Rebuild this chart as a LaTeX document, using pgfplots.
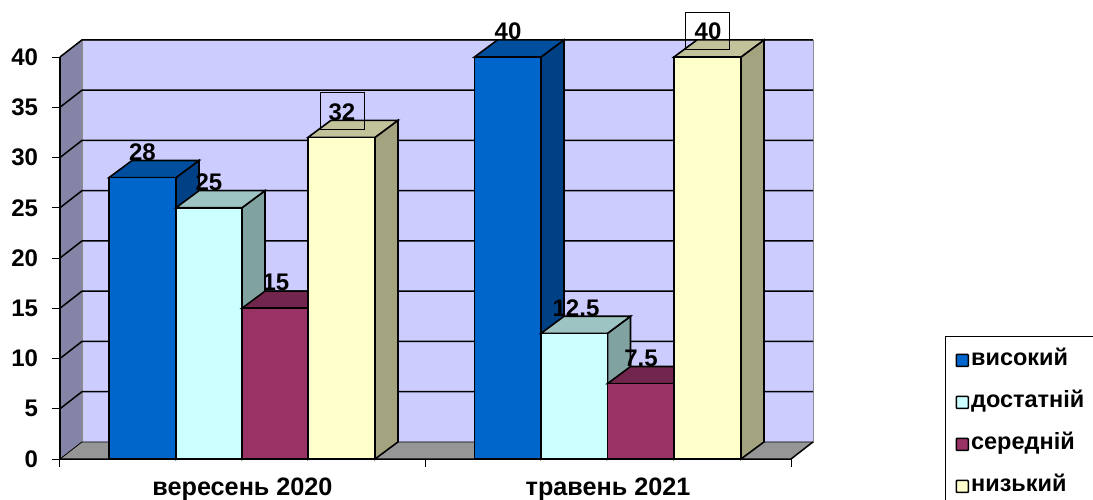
\documentclass[border=0pt]{standalone}
\usepackage{fontspec}
\setmainfont{Liberation Sans}
\usepackage{pgfplots}
\pgfplotsset{compat=1.18}

\definecolor{wallback}{HTML}{CCCCFF}
\definecolor{wallleft}{HTML}{8484A6}
\definecolor{floorgrey}{HTML}{969696}
\definecolor{bluef}{HTML}{0066CC}
\definecolor{bluet}{HTML}{004F9E}
\definecolor{blues}{HTML}{004085}
\definecolor{cyanf}{HTML}{CCFFFF}
\definecolor{cyant}{HTML}{9DC4C2}
\definecolor{cyans}{HTML}{80A3A1}
\definecolor{plumf}{HTML}{993366}
\definecolor{plumt}{HTML}{73264D}
\definecolor{yellf}{HTML}{FFFFCC}
\definecolor{yellt}{HTML}{C2C29B}
\definecolor{yells}{HTML}{A3A380}

% x0, x1, x1+depth, x0+depth, value, value+depth, front, top, side
\newcommand{\tdbar}[9]{
	\addplot[draw=black, line width=1.6pt, fill=#9, forget plot] coordinates {(#2,0) (#3,1.7) (#3,#6) (#2,#5)} --cycle;
	\addplot[draw=black, line width=1.6pt, fill=#8, forget plot] coordinates {(#1,#5) (#4,#6) (#3,#6) (#2,#5)} --cycle;
	\addplot[draw=black, line width=1.6pt, fill=#7, forget plot] coordinates {(#1,0) (#1,#5) (#2,#5) (#2,0)} --cycle;
}
\newcommand{\swatch}[1]{
	\addlegendimage{legend image code/.code={\draw[line width=1.6pt, fill=#1, rounded corners=0.8pt] (0pt,-6pt) rectangle (12pt,6pt);}}
}
\newcommand{\gridl}[2]{
	\addplot[black, line width=1.5pt, forget plot] coordinates {(60,#1) (82,#2) (813,#2)};
}

\begin{document}
\begin{tikzpicture}
\path[use as bounding box] (0,0) rectangle (1093pt,499pt);
\begin{axis}[
	at={(60pt,40pt)},
	anchor=south west,
	scale only axis,
	width=731pt,
	height=402pt,
	xmin=60, xmax=791,
	ymin=0, ymax=40,
	clip=false,
	axis x line=bottom,
	axis y line=left,
	axis line style={-, line width=1.5pt},
	tick align=outside,
	major tick length=8pt,
	tick style={black, line width=1pt},
	ytick={0,5,...,40},
	xtick={60,425,791},
	xticklabels={},
	extra x ticks={242.5,608},
	extra x tick labels={вересень 2020,травень 2021},
	extra x tick style={tick style={draw=none}},
	xticklabel style={font=\bfseries\fontsize{25.2}{28}\selectfont, inner sep=0pt, yshift=-10.9pt},
	yticklabel style={font=\bfseries\fontsize{24}{28}\selectfont, xshift=-10.5pt},
	/pgf/number format/assume math mode=true,
	legend style={
		at={(axis cs:945,12.2)},
		anchor=north west,
		draw=black,
		line width=1pt,
		font=\bfseries\fontsize{23.5}{26}\selectfont,
		inner xsep=10pt,
		inner ysep=11.5pt,
		row sep=18pt,
		nodes={inner sep=2pt, text height=15pt, text depth=5pt},
		legend cell align=left,
	},
]
\swatch{bluef}
\addlegendentry{високий}
\swatch{cyanf}
\addlegendentry{достатній}
\swatch{plumf}
\addlegendentry{середній}
\swatch{yellf}
\addlegendentry{низький}

% walls and floor
\addplot[draw=black!45, line width=0.8pt, fill=wallback, forget plot] coordinates {(82,1.7) (82,41.7) (813,41.7) (813,1.7)} --cycle;
\addplot[draw=black!45, line width=0.6pt, fill=wallleft, forget plot] coordinates {(60,0) (60,40) (82,41.7) (82,1.7)} --cycle;
\addplot[draw=none, fill=floorgrey, forget plot] coordinates {(60,0) (82,1.7) (813,1.7) (791,0)} --cycle;
\addplot[black, line width=1.5pt, forget plot] coordinates {(60,0) (60,40)};
\addplot[black, line width=1.5pt, forget plot] coordinates {(60,0) (791,0) (813,1.7)};
\addplot[black, line width=0.8pt, forget plot] coordinates {(60,0) (82,1.7) (813,1.7)};
\gridl{5}{6.7}
\gridl{10}{11.7}
\gridl{15}{16.7}
\gridl{20}{21.7}
\gridl{25}{26.7}
\gridl{30}{31.7}
\gridl{35}{36.7}
\gridl{40}{41.7}

% вересень 2020
\tdbar{109}{176}{199}{132}{28}{29.7}{bluef}{bluet}{blues}
\tdbar{176}{242}{265}{199}{25}{26.7}{cyanf}{cyant}{cyans}
\tdbar{242}{308}{331}{265}{15}{16.7}{plumf}{plumt}{plumt}
\tdbar{308}{375}{398}{331}{32}{33.7}{yellf}{yellt}{yells}
% травень 2021
\tdbar{474.5}{541}{564}{497.5}{40}{41.7}{bluef}{bluet}{blues}
\tdbar{541}{607.5}{630.5}{564}{12.5}{14.2}{cyanf}{cyant}{cyans}
\tdbar{607.5}{674}{697}{630.5}{7.5}{9.2}{plumf}{plumt}{plumt}
\tdbar{674}{741}{764}{697}{40}{41.7}{yellf}{yellt}{yells}

% frames of two data labels
\addplot[black, line width=0.6pt, forget plot] coordinates {(320,32.84) (320,36.52) (364,36.52) (364,32.84)} --cycle;
\addplot[black, line width=0.6pt, forget plot] coordinates {(685,40.8) (685,44.48) (729,44.48) (729,40.8)} --cycle;

% data labels
\addplot[draw=none, forget plot, point meta=explicit symbolic, nodes near coords,
	every node near coord/.style={anchor=center, yshift=25.5pt, inner sep=0pt, font=\bfseries\fontsize{24}{28}\selectfont}]
coordinates {
	(142.5,28) [28]
	(209,25) [25]
	(276,15) [15]
	(342,32) [32]
	(508,40) [40]
	(576,12.5) [12.5]
	(641,7.5) [7.5]
	(708,40) [40]
};
\end{axis}
\end{tikzpicture}
\end{document}
